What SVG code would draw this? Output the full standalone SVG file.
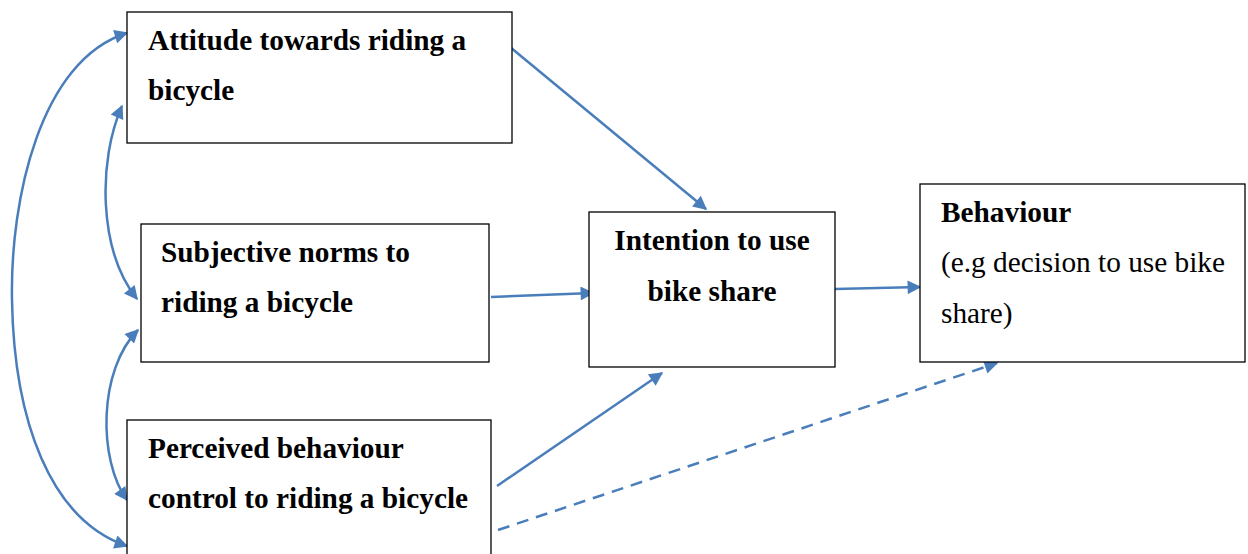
<svg xmlns="http://www.w3.org/2000/svg" width="1248" height="554" viewBox="0 0 1248 554">
<style>
.box{fill:#fff;stroke:#000;stroke-width:1.3}
.t{font-family:"Liberation Serif","Times New Roman",serif;font-size:29.3px;fill:#000}
.b{font-weight:bold}
.c{fill:none;stroke:#4A7EBB;stroke-width:2.5}
.d{stroke-dasharray:12,8}
</style>
<defs>
<marker id="ah" viewBox="0 0 10 10" refX="9" refY="5" markerWidth="7" markerHeight="5.5" markerUnits="strokeWidth" orient="auto-start-reverse">
<path d="M0,0 L10,5 L0,10 z" fill="#4A7EBB"/>
</marker>
</defs>
<g id="connectors">
<path class="c" d="M510,47 L706,209" marker-end="url(#ah)"/>
<path class="c" d="M491,297 L593,293" marker-end="url(#ah)"/>
<path class="c" d="M835,289 L920,287" marker-end="url(#ah)"/>
<path class="c" d="M497,486 L662,373" marker-end="url(#ah)"/>
<path class="c d" d="M498,530 L997,363" marker-end="url(#ah)"/>
<path class="c" d="M127,33 C40,60 10,200 12,300 C14,420 50,520 127,546" marker-start="url(#ah)" marker-end="url(#ah)"/>
<path class="c" d="M122,106 C98,160 98,250 137,299" marker-start="url(#ah)" marker-end="url(#ah)"/>
<path class="c" d="M138,330 C98,370 98,460 127,500" marker-start="url(#ah)" marker-end="url(#ah)"/>
</g>
<g id="attitude">
<rect class="box" x="127" y="12" width="385" height="131"/>
<text class="t b" x="148" y="50">Attitude towards riding a</text>
<text class="t b" x="148" y="100">bicycle</text>
</g>
<g id="subjective">
<rect class="box" x="141" y="224" width="348" height="138"/>
<text class="t b" x="161" y="262">Subjective norms to</text>
<text class="t b" x="161" y="312">riding a bicycle</text>
</g>
<g id="perceived">
<rect class="box" x="127" y="420" width="364" height="150"/>
<text class="t b" x="148" y="458">Perceived behaviour</text>
<text class="t b" x="148" y="508">control to riding a bicycle</text>
</g>
<g id="intention">
<rect class="box" x="589" y="212" width="246" height="155"/>
<text class="t b" x="712" y="250" text-anchor="middle">Intention to use</text>
<text class="t b" x="712" y="301" text-anchor="middle">bike share</text>
</g>
<g id="behaviour">
<rect class="box" x="920" y="184" width="325" height="178"/>
<text class="t b" x="941" y="222">Behaviour</text>
<text class="t" x="941" y="272">(e.g decision to use bike</text>
<text class="t" x="941" y="323">share)</text>
</g>
</svg>
